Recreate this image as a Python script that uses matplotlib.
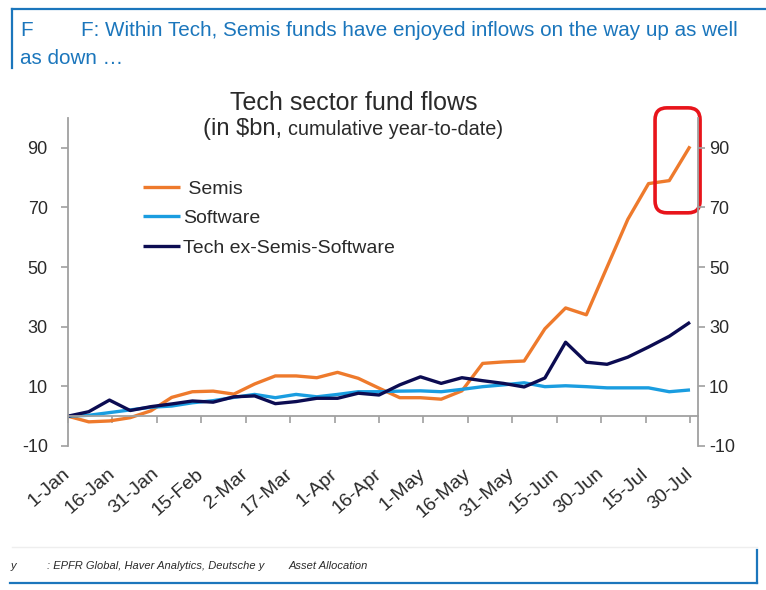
import matplotlib
matplotlib.use('Agg')
import matplotlib.pyplot as plt
from matplotlib import font_manager as fm
from matplotlib.patches import FancyBboxPatch
from matplotlib.lines import Line2D

# ---------------- data ----------------
week_days = list(range(0, 211, 7))          # weekly observations, days since 1-Jan
semis = [0, -1.9, -1.6, -0.5, 1.8, 6.3, 8.2, 8.4, 7.4, 10.8, 13.5,
         13.5, 12.9, 14.7, 12.7, 9.4, 6.2, 6.2, 5.7, 8.5, 17.7,
         18.2, 18.5, 29.3, 36.3, 34.0, 50.0, 66.0, 78.0, 79.0, 90.5]
software = [0, 0.3, 1.2, 2.1, 3.0, 3.4, 4.5, 5.2, 6.3, 7.3, 6.2,
            7.3, 6.5, 7.3, 8.2, 8.2, 8.4, 8.5, 8.2, 9.0, 9.9,
            10.5, 11.2, 9.9, 10.2, 9.9, 9.5, 9.5, 9.5, 8.2, 8.8]
tech_ex = [0, 1.5, 5.4, 1.9, 3.2, 4.1, 5.1, 4.7, 6.5, 6.8, 4.2,
           4.9, 6.0, 6.0, 7.7, 7.1, 10.5, 13.2, 11.0, 12.9, 11.9,
           11.0, 9.8, 12.8, 24.8, 18.1, 17.4, 19.8, 23.2, 26.8, 31.5]
series_labels = [' Semis', 'Software', 'Tech ex-Semis-Software']
tick_days = list(range(0, 211, 15))
tick_labels = ['1-Jan', '16-Jan', '31-Jan', '15-Feb', '2-Mar', '17-Mar', '1-Apr',
               '16-Apr', '1-May', '16-May', '31-May', '15-Jun', '30-Jun',
               '15-Jul', '30-Jul']
y_ticks = [-10, 10, 30, 50, 70, 90]

# ---------------- style ----------------
names = {f.name for f in fm.fontManager.ttflist}
main_font = 'Liberation Sans' if 'Liberation Sans' in names else 'DejaVu Sans'
narrow_font = 'Liberation Sans Narrow' if 'Liberation Sans Narrow' in names else main_font
plt.rcParams['font.family'] = [main_font, 'DejaVu Sans']
plt.rcParams['axes.unicode_minus'] = False

ORANGE = '#EE7A2C'
LIGHT = '#1A9DE0'
NAVY = '#0C0C52'
BLUE = '#1B76BC'
GREY = '#A0A0A0'
TXT = '#2a2a2a'

W, H = 766, 590
fig = plt.figure(figsize=(W / 100, H / 100), dpi=100)

def fx(px):
    return px / W

def fy(py):
    return 1 - py / H

ax = fig.add_axes([fx(68), fy(446), fx(698) - fx(68), fy(118) - fy(446)])
for vals, col, lab in zip([semis, software, tech_ex], [ORANGE, LIGHT, NAVY], series_labels):
    ax.plot(week_days, vals, color=col, lw=2.4, label=lab, solid_capstyle='butt')

ax.set_xlim(0, 212.7)
ax.set_ylim(-10, 100)
ax.spines['top'].set_visible(False)
ax.spines['right'].set_visible(False)
ax.spines['bottom'].set_position(('data', 0))
for s in ['left', 'bottom']:
    ax.spines[s].set_color(GREY)
    ax.spines[s].set_linewidth(1.3)

ax.set_yticks(y_ticks)
ax.tick_params(axis='y', length=5, width=1.2, color=GREY, labelsize=13,
               labelcolor=TXT, pad=9.5)
ax.set_xticks(tick_days, tick_labels)
ax.tick_params(axis='x', length=5, width=1.2, color=GREY, labelsize=14,
               labelcolor=TXT, pad=35)
for lab in ax.get_xticklabels():
    lab.set_rotation(41)
    lab.set_ha('right')
    lab.set_va('center')
    lab.set_rotation_mode('anchor')

ax2 = ax.twinx()
ax2.set_ylim(ax.get_ylim())
for s in ['top', 'left', 'bottom']:
    ax2.spines[s].set_visible(False)
ax2.spines['right'].set_color(GREY)
ax2.spines['right'].set_linewidth(1.3)
ax2.set_yticks(y_ticks)
ax2.tick_params(axis='y', length=5, width=1.2, color=GREY, labelsize=13,
                labelcolor=TXT, pad=3)

# legend
ax.legend(loc='upper left', bbox_to_anchor=(fx(143), fy(180)), bbox_transform=fig.transFigure,
          frameon=False, fontsize=14, handlelength=1.9, handletextpad=0.15,
          labelspacing=0.62, borderpad=0, borderaxespad=0, labelcolor=TXT)

# highlight box around the latest Semis readings
box = FancyBboxPatch((198.2, 68.2), 15.2, 35.2,
                     boxstyle='round,pad=0,rounding_size=4',
                     fc='none', ec='#E8141B', lw=2.6, clip_on=False, zorder=10)
ax.add_patch(box)

# titles
fig.text(fx(354), fy(110), 'Tech sector fund flows', ha='center', va='baseline',
         fontsize=18, color=TXT)
t1 = fig.text(fx(203), fy(135), '(in $bn,', ha='left', va='baseline',
              fontsize=17, color=TXT)
fig.canvas.draw()
bb = t1.get_window_extent(fig.canvas.get_renderer())
fig.text((bb.x1 + 6) / W, fy(135), 'cumulative year-to-date)', ha='left', va='baseline',
         fontsize=14.3, color=TXT)

# header
HFS = 14.9
fig.text(fx(20), fy(30), 'F', ha='left', va='center', fontsize=HFS, color=BLUE)
fig.text(fx(81), fy(30), 'F: Within Tech, Semis funds have enjoyed inflows on the way up as well',
         ha='left', va='center', fontsize=HFS, color=BLUE)
fig.text(fx(20), fy(58), 'as down \u2026', ha='left', va='center', fontsize=HFS, color=BLUE)
fig.add_artist(Line2D([fx(12), 1], [fy(9), fy(9)], color=BLUE, lw=1.6))
fig.add_artist(Line2D([fx(12), fx(12)], [fy(9), fy(68)], color=BLUE, lw=1.6))

# footer
FFS = 8
fig.add_artist(Line2D([fx(12), fx(757)], [fy(547), fy(547)], color='#eeeeee', lw=1))
fig.text(fx(11), fy(566), 'y', ha='left', va='center', fontsize=FFS, style='italic',
         color=TXT, family=[narrow_font, 'DejaVu Sans'])
fig.text(fx(47), fy(566), ': EPFR Global, Haver Analytics, Deutsche y', ha='left', va='center',
         fontsize=FFS, style='italic', color=TXT, family=[narrow_font, 'DejaVu Sans'])
fig.text(fx(289), fy(566), 'Asset Allocation', ha='left', va='center',
         fontsize=FFS, style='italic', color=TXT, family=[narrow_font, 'DejaVu Sans'])
fig.add_artist(Line2D([fx(10), fx(757)], [fy(583), fy(583)], color=BLUE, lw=1.6))
fig.add_artist(Line2D([fx(757), fx(757)], [fy(550), fy(583)], color=BLUE, lw=1.6))

fig.savefig('out.png', dpi=100)
